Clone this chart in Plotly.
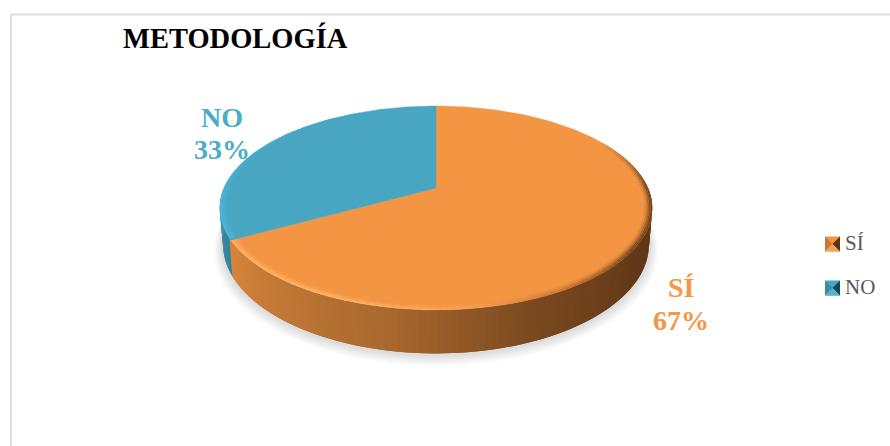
import math
import plotly.graph_objects as go

categories = ["SÍ", "NO"]
values = [67, 33]
title_text = "METODOLOGÍA"

W, H = 890, 446
CX, CY, R, S, K, D = 436, 188, 212, 98, 0.196, 35
TOP = {"SÍ": (243, 149, 67), "NO": (72, 166, 195)}
LABEL = {"SÍ": "#F79646", "NO": "#4BACC6"}


def css(rgb):
    return "rgb(%d,%d,%d)" % tuple(round(c) for c in rgb)


def proj(theta, r=1.0, depth=0.0):
    """theta: degrees clockwise from twelve o'clock on the disc."""
    a = math.radians(theta)
    u, v = r * math.sin(a), r * math.cos(a)
    w = 1 + K * v
    scale = 1 - 0.015 * depth
    x = CX + scale * R * u / w
    y = CY - S * v / w + depth * D / w
    return x, y


def lerp(stops, t):
    t = max(stops[0][0], min(stops[-1][0], t))
    for (a, ca), (b, cb) in zip(stops, stops[1:]):
        if t <= b:
            f = (t - a) / (b - a) if b > a else 0
            return tuple(ca[i] + f * (cb[i] - ca[i]) for i in range(3))
    return stops[-1][1]


def blend(c, base, mix):
    return tuple(mix * c[i] + (1 - mix) * base[i] for i in range(3))


fig = go.Figure()


def poly(pts, color, opacity=1.0, line=0.0):
    fig.add_trace(go.Scatter(
        x=[p[0] for p in pts], y=[p[1] for p in pts], mode="lines",
        fill="toself", fillcolor=color, opacity=opacity,
        line=dict(color=color, width=line), hoverinfo="skip", showlegend=False))


def arc(a, b, r=1.0, depth=0.0, n=60):
    return [proj(a + (b - a) * i / n, r, depth) for i in range(n + 1)]


total = sum(values)
split = 360 * values[0] / total   # SÍ runs clockwise from 12 o'clock to here

# soft shadow under the disc
for i in range(9):
    grow = 1.042 - i * 0.0045
    pts = [proj(t, grow, 1.09 - i * 0.012) for t in range(0, 361, 3)]
    pts = [(p[0], p[1] + 1.5) for p in pts]
    poly(pts, "#9a9a9a", 0.035)

# side wall, in overlapping narrow bands, shaded by angle
side_or = [(90, (94, 54, 22)), (125, (98, 57, 24)), (160, (124, 74, 32)),
           (190, (168, 104, 46)), (215, (190, 118, 52)), (245, (218, 134, 60))]
side_bl = [(240, (48, 128, 155)), (275, (66, 150, 178))]
step = 1.5
t = 88.0
while t < 272:
    t2 = t + step + 1.5
    pts = arc(t, t2, 1, 0, 2) + arc(t2, t, 1, 1, 2)
    mid = t + step / 2
    poly(pts, css(lerp(side_or, mid) if t < split else lerp(side_bl, mid)))
    t += step

# top faces
a0 = 0
for cat, val in zip(categories, values):
    a1 = a0 + 360 * val / total
    poly([(CX, CY)] + arc(a0, a1, 1, 0, 180) + [(CX, CY)], css(TOP[cat]), 1, 0.5)
    a0 = a1

# bevel on the rim: opaque bands that fade into the top colour
rim_or = [(60, (243, 149, 67)), (88, (110, 66, 28)), (125, (112, 68, 30)),
          (150, (195, 118, 52)), (175, (252, 165, 90)), (205, (255, 184, 112)),
          (241, (255, 176, 100))]
rim_bl = [(241, (78, 184, 222)), (300, (72, 172, 204)), (325, (72, 166, 195))]
bands = [(1.0, 0.993, 1.0), (0.993, 0.986, 0.8), (0.986, 0.979, 0.55),
         (0.979, 0.972, 0.3), (0.972, 0.965, 0.12)]
for r0, r1, mix in bands:
    t = 60.0
    while t < 325:
        t2 = t + 3.0
        pts = arc(t, t2, r1, 0, 2) + arc(t2, t, r0, 0, 2)
        mid = t + 1
        if t2 <= split:
            poly(pts, css(blend(lerp(rim_or, mid), TOP["SÍ"], mix)))
        elif t >= split:
            poly(pts, css(blend(lerp(rim_bl, mid), TOP["NO"], mix)))
        t += 2.0

# legend: real entries with text, swatches drawn as small bevelled squares beside them
swatch_y = {"SÍ": 244, "NO": 288}
for cat, shade in zip(categories, [(92, 52, 20), (16, 74, 94)]):
    y = swatch_y[cat]
    x0, x1, y0, y1 = 825, 840, y - 7.5, y + 7.5
    xm, ym = (x0 + x1) / 2, y
    poly([(x0, y0), (x1, y0), (x1, y1), (x0, y1)], css(TOP[cat]))
    poly([(x0, y0), (xm, ym), (x0, y1)], css(blend(TOP[cat], shade, 0.72)))
    poly([(x1, y0), (xm, ym), (x1, y1)], css(shade))
    poly([(x0, y1), (xm, ym), (x1, y1)], css(blend((255, 255, 255), TOP[cat], 0.12)))
    fig.add_trace(go.Scatter(
        x=[None], y=[None], mode="markers", name=cat, legendgroup=cat,
        marker=dict(symbol="square", size=1, color="rgba(0,0,0,0)"), hoverinfo="skip"))

# frame
fig.add_shape(type="line", x0=11, x1=11, y0=14, y1=H, line=dict(color="#DEDEDE", width=2))
fig.add_shape(type="line", x0=10, x1=W, y0=14.5, y1=14.5, line=dict(color="#DEDEDE", width=2))

# title
fig.add_annotation(x=121, y=38, text="<b>%s</b>" % title_text, showarrow=False, xanchor="left",
                   yanchor="middle", font=dict(family="Liberation Serif", size=28.5, color="#000000"))

# data labels
label_pos = {"SÍ": (681, 287, 320), "NO": (222, 117, 149)}
for cat, val in zip(categories, values):
    x, y1, y2 = label_pos[cat]
    for y, txt in ((y1, cat), (y2, "%d%%" % val)):
        fig.add_annotation(x=x, y=y, text="<b>%s</b>" % txt, showarrow=False,
                           font=dict(family="Liberation Serif", size=28, color=LABEL[cat]))

fig.update_layout(
    width=W, height=H, margin=dict(l=0, r=0, t=0, b=0),
    paper_bgcolor="white", plot_bgcolor="white",
    xaxis=dict(range=[0, W], visible=False, fixedrange=True),
    yaxis=dict(range=[H, 0], visible=False, fixedrange=True),
    legend=dict(x=805 / W, y=1 - 222 / H, xanchor="left", yanchor="top", tracegroupgap=13,
                bgcolor="rgba(0,0,0,0)", font=dict(family="Liberation Serif", size=21, color="#595959"),
                itemwidth=30),
)
fig.write_html("out.html", config={"displayModeBar": False},
               post_script="document.body.style.margin='0';document.documentElement.style.overflow='hidden';")
